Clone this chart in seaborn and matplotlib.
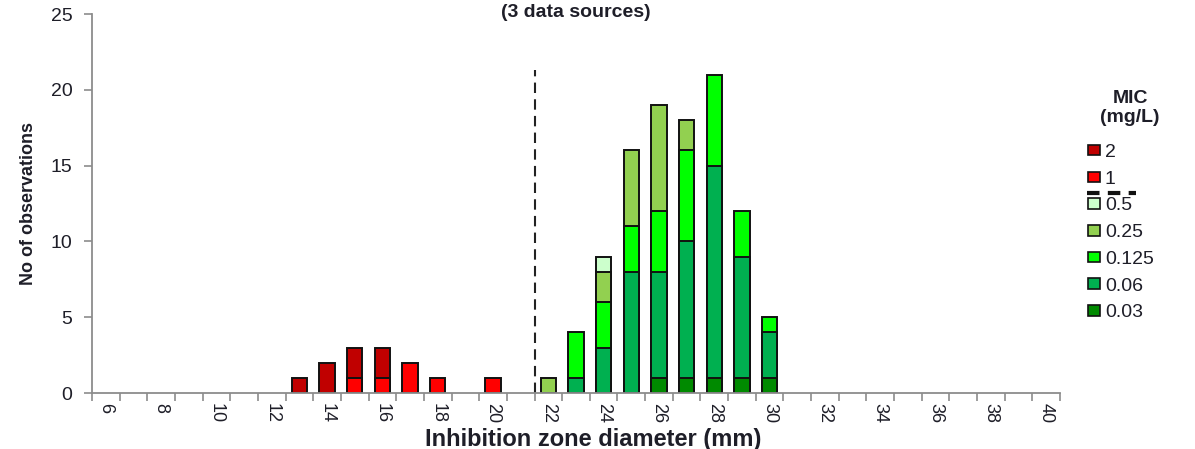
import numpy as np
import pandas as pd
import matplotlib
matplotlib.use("Agg")
import matplotlib.pyplot as plt
from matplotlib.patches import Patch
from matplotlib.lines import Line2D
import seaborn as sns

# Inhibition zone diameters (mm) shown on the x axis
diameters = list(range(6, 41))

# MIC levels, listed from the bottom of each stack to the top
mic_levels = ["0.03", "0.06", "0.125", "0.25", "0.5", "1", "2"]

# Number of observations per diameter for each MIC (mg/L); absent diameters are 0
mic_0_03 = {26: 1, 27: 1, 28: 1, 29: 1, 30: 1}
mic_0_06 = {23: 1, 24: 3, 25: 8, 26: 7, 27: 9, 28: 14, 29: 8, 30: 3}
mic_0_125 = {23: 3, 24: 3, 25: 3, 26: 4, 27: 6, 28: 6, 29: 3, 30: 1}
mic_0_25 = {22: 1, 24: 2, 25: 5, 26: 7, 27: 2}
mic_0_5 = {24: 1}
mic_1 = {15: 1, 16: 1, 17: 2, 18: 1, 20: 1}
mic_2 = {13: 1, 14: 2, 15: 2, 16: 2}

mic_colors = {
    "0.03": "#008a00",
    "0.06": "#00b050",
    "0.125": "#00ff00",
    "0.25": "#92d050",
    "0.5": "#ccffcc",
    "1": "#ff0000",
    "2": "#c00000",
}

# Breakpoint between resistant and susceptible zone diameters (mm)
zone_breakpoint = 21.5

counts_by_level = {
    "0.03": mic_0_03, "0.06": mic_0_06, "0.125": mic_0_125, "0.25": mic_0_25,
    "0.5": mic_0_5, "1": mic_1, "2": mic_2,
}

rows = []
for d in diameters:
    running = 0
    for lvl in mic_levels:
        c = counts_by_level[lvl].get(d, 0)
        running += c
        rows.append({"diameter": d, "mic": lvl, "count": c, "top": running})
df = pd.DataFrame(rows)

sns.set_theme(style="ticks")
plt.rcParams["font.family"] = ["Liberation Sans", "DejaVu Sans"]
text_color = "#1e1e28"
axis_gray = "#8c8c8c"

fig = plt.figure(figsize=(11.95, 4.49), dpi=100)
ax = fig.add_axes([0.077, 0.1247, 0.81, 0.844])

# Stacked bars: draw the upper segments first so lower ones sit on top of them
for lvl in reversed(mic_levels):
    sub = df[(df["mic"] == lvl) & (df["count"] > 0)]
    if sub.empty:
        continue
    sns.barplot(data=sub, x="diameter", y="top", order=diameters,
                color=mic_colors[lvl], saturation=1, width=0.55,
                edgecolor="#111111", linewidth=1.4, errorbar=None, ax=ax)

# Breakpoint marker
bp_pos = diameters.index(int(zone_breakpoint)) + (zone_breakpoint - int(zone_breakpoint))
ax.vlines(bp_pos, 0, 21.3, colors="#222222", linestyles=(0, (5, 3)), linewidth=1.5)

ax.set_xlim(-0.5, len(diameters) - 0.5)
ax.set_ylim(0, 25)
ax.set_yticks([0, 5, 10, 15, 20, 25])

# Tick marks between the bars, labels on every other diameter
ax.set_xticks(np.arange(-0.5, len(diameters), 1))
ax.set_xticklabels([])
label_pos = [i for i, d in enumerate(diameters) if d % 2 == 0]
ax.set_xticks(label_pos, minor=True)
ax.set_xticklabels([str(diameters[i]) for i in label_pos], minor=True,
                   rotation=270, fontsize=13, color=text_color)
ax.tick_params(axis="x", which="major", length=6, width=1.2, color=axis_gray)
ax.tick_params(axis="x", which="minor", length=0, pad=7)
ax.tick_params(axis="y", length=6, width=1.2, color=axis_gray, labelsize=14,
               labelcolor=text_color, pad=8)

sns.despine(ax=ax)
for side in ("left", "bottom"):
    ax.spines[side].set_color(axis_gray)
    ax.spines[side].set_linewidth(1.3)

ax.set_xlabel("Inhibition zone diameter (mm)", fontsize=17, fontweight="bold",
              color=text_color)
ax.xaxis.set_label_coords(0.5176, -0.092)
ax.xaxis.label.set_va("top")
ax.set_ylabel("No of observations", fontsize=13, fontweight="bold", color=text_color)
ax.yaxis.set_label_coords(-0.057, 0.5)

ax.text(0.5, 1.005, "(3 data sources)", transform=ax.transAxes, ha="center",
        va="center", fontsize=14, fontweight="bold", color=text_color)

# Legend heading
fig.text(1130 / 1195, 1 - 108 / 449, "MIC\n(mg/L)", ha="center", va="center",
         multialignment="center", fontsize=14, fontweight="bold",
         color=text_color, linespacing=1.2)

# Legend, highest MIC first
handles = [Patch(facecolor=mic_colors[l], edgecolor="#111111", linewidth=1.2,
                 label=l) for l in reversed(mic_levels)]
leg = fig.legend(handles=handles, loc="upper left",
                 bbox_to_anchor=(1088 / 1195, 1 - 144 / 449), frameon=False,
                 fontsize=14, handlelength=0.62, handleheight=0.46,
                 handletextpad=0.25, labelspacing=0.5, borderpad=0,
                 borderaxespad=0)
for t in leg.get_texts():
    t.set_color(text_color)

# Dashed separator between resistant and susceptible MICs in the legend
fig.canvas.draw()
renderer = fig.canvas.get_renderer()
texts = leg.get_texts()
labels_top = [t.get_text() for t in texts]
bb_hi = texts[labels_top.index("1")].get_window_extent(renderer)
bb_lo = texts[labels_top.index("0.5")].get_window_extent(renderer)
y_mid = (bb_hi.y0 + bb_lo.y1) / 2 / fig.bbox.height
x0 = leg.get_window_extent(renderer).x0 / fig.bbox.width
fig.add_artist(Line2D([x0 - 0.001, x0 + 0.04], [y_mid, y_mid],
                      transform=fig.transFigure, color="#111111",
                      linewidth=3, linestyle=(0, (3, 2))))

fig.savefig("out.png", dpi=100)
